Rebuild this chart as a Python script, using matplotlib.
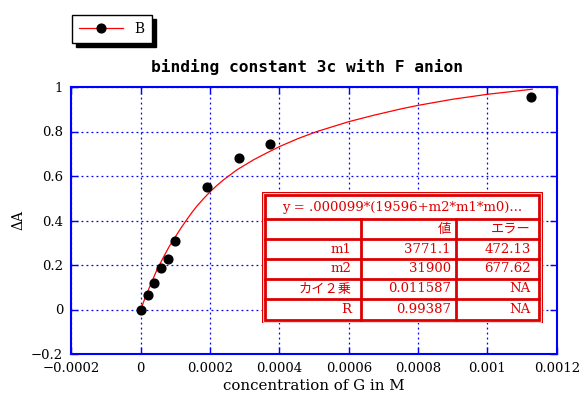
import matplotlib
matplotlib.use("Agg")
import matplotlib.pyplot as plt
from matplotlib.patches import Rectangle
from matplotlib.legend_handler import HandlerTuple

# titration data: guest concentration (M) vs absorbance change
conc = [0.0, 2.16e-5, 3.9e-5, 5.83e-5, 7.85e-5, 9.75e-5, 1.919e-4, 2.834e-4, 3.717e-4, 1.1255e-3]
dA = [0.0, 0.063, 0.120, 0.185, 0.228, 0.309, 0.550, 0.679, 0.743, 0.953]

# fitted binding curve
fit_x = [0.0, 1.3e-5, 2.74e-5, 4.6e-5, 6.58e-5, 8.2e-5, 9.96e-5, 1.16e-4, 1.333e-4, 1.48e-4, 1.622e-4,
         1.81e-4, 2.006e-4, 2.2e-4, 2.39e-4, 2.777e-4, 3.256e-4, 3.65e-4, 4.026e-4, 4.55e-4, 5.085e-4,
         5.997e-4, 6.719e-4, 7.489e-4, 8.017e-4, 9.0e-4, 9.99e-4, 1.129e-3]
fit_y = [0.0, 0.054, 0.108, 0.176, 0.236, 0.283, 0.326, 0.366, 0.405, 0.437, 0.465,
         0.498, 0.530, 0.558, 0.583, 0.628, 0.673, 0.705, 0.734, 0.769, 0.800,
         0.844, 0.873, 0.901, 0.918, 0.945, 0.967, 0.990]

xticks = [-0.0002, 0, 0.0002, 0.0004, 0.0006, 0.0008, 0.001, 0.0012]
xlabels = ["\u22120.0002", "0", "0.0002", "0.0004", "0.0006", "0.0008", "0.001", "0.0012"]
yticks = [-0.2, 0, 0.2, 0.4, 0.6, 0.8, 1]
ylabels = ["\u22120.2", "0", "0.2", "0.4", "0.6", "0.8", "1"]

# fit results table
formula = "y = .000099*(19596+m2*m1*m0)..."
tab_head = ["", "値", "エラー"]
tab_rows = [["m1", "3771.1", "472.13"],
            ["m2", "31900", "677.62"],
            ["カイ２乗", "0.011587", "NA"],
            ["R", "0.99387", "NA"]]

serif = ["DejaVu Serif", "Noto Sans CJK JP"]
blue = "#0000ff"
red = "#dd0000"

fig = plt.figure(figsize=(5.8, 4.0), dpi=100)
ax = fig.add_axes([71.4 / 580, 46 / 400, (556.8 - 71.4) / 580, (354 - 87) / 400])

fit_line, = ax.plot(fit_x, fit_y, color="#ff0000", lw=0.9, zorder=3)
pts, = ax.plot(conc, dA, "o", color="black", ms=6.3, mec="black", zorder=4)

ax.set_xlim(-0.0002, 0.0012)
ax.set_ylim(-0.2, 1.0)
ax.set_xticks(xticks)
ax.set_xticklabels(xlabels, family=serif, fontsize=9.5)
ax.set_yticks(yticks)
ax.set_yticklabels(ylabels, family=serif, fontsize=9.5)
ax.tick_params(direction="in", length=5, width=1, color=blue, top=True, right=True, pad=6)
ax.grid(True, color=blue, ls=(0, (1.5, 2.5)), lw=0.9)
for s in ax.spines.values():
    s.set_color(blue)
    s.set_linewidth(1.5)

ax.set_xlabel("concentration of G in M", family=serif, fontsize=10.8, labelpad=3)
ax.set_ylabel("ΔA", family=serif, fontsize=10, labelpad=4)
ax.set_title("binding constant 3c with F anion", family=["DejaVu Sans Mono"],
             fontweight="bold", fontsize=11.7, pad=11, x=0.486)

leg = fig.legend(handles=[(fit_line, pts)], labels=["B"], handler_map={tuple: HandlerTuple(ndivide=1)},
                 loc="upper left", bbox_to_anchor=(72 / 580, 1 - 15 / 400),
                 frameon=True, fancybox=False, edgecolor="black", framealpha=1,
                 shadow={"color": "black", "alpha": 1, "ox": 3, "oy": -3},
                 prop={"family": serif, "size": 10}, handlelength=3.2, borderpad=0.5,
                 borderaxespad=0)
leg.get_frame().set_linewidth(1.0)

# table of fit parameters, drawn in its own pixel-unit axes
W, H = 281.0, 131.6
tab = fig.add_axes([261.7 / 580, (400 - 323.3) / 400, W / 580, H / 400])
tab.set_xlim(0, W)
tab.set_ylim(H, 0)
tab.axis("off")
tab.add_patch(Rectangle((0.5, 0.5), W - 1, H - 1, fc="white", ec=red, lw=1.0))
tab.add_patch(Rectangle((3.3, 3.3), W - 6.6, H - 6.6, fc="none", ec=red, lw=2.0))
row_lines = [27.6, 47.6, 67.3, 87.3, 107.3]
col_lines = [99.0, 194.3]
for yl in row_lines:
    tab.plot([3.3, W - 3.3], [yl, yl], color=red, lw=2.0)
for xl in col_lines:
    tab.plot([xl, xl], [27.6, H - 3.3], color=red, lw=2.0)

tab.text(W / 2, 15.5, formula, ha="center", va="center", color=red, family=serif, fontsize=9.5)
col_right = [90, 189, 269]
row_mid = [37.6, 57.6, 77.3, 97.3, 117.5]
for r, row in enumerate([tab_head] + tab_rows):
    for c, val in enumerate(row):
        tab.text(col_right[c], row_mid[r], val, ha="right", va="center", color=red,
                 family=serif, fontsize=9.5)

fig.savefig("out.png", dpi=100)
